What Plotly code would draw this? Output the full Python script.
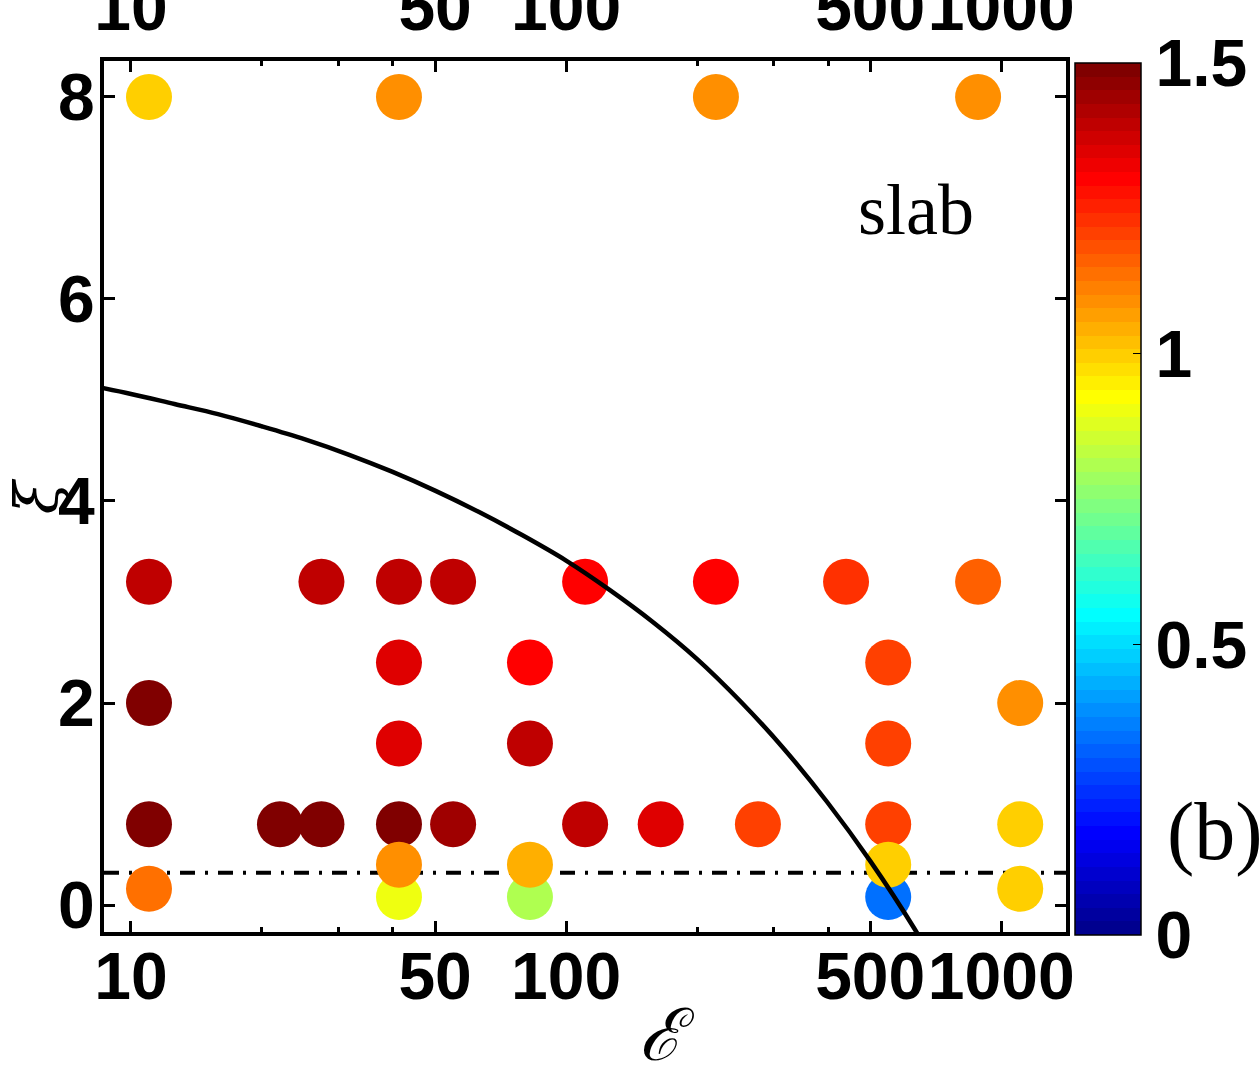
import math
import plotly.graph_objects as go

# ---------------- data ----------------
# scatter points: E (energy-like parameter), xi, colour value
E_VALS = [11, 41.3, 221, 885,
          11, 27.4, 41.3, 55, 110.6, 221, 440, 885,
          41.3, 82.6, 550,
          11, 1106,
          41.3, 82.6, 550,
          11, 22, 27.4, 41.3, 55, 110.6, 165, 276, 550, 1106,
          11, 1106,
          41.3, 82.6, 550,
          41.3, 82.6, 550]
XI_VALS = [8, 8, 8, 8,
           3.2, 3.2, 3.2, 3.2, 3.2, 3.2, 3.2, 3.2,
           2.4, 2.4, 2.4,
           2.0, 2.0,
           1.6, 1.6, 1.6,
           0.8, 0.8, 0.8, 0.8, 0.8, 0.8, 0.8, 0.8, 0.8, 0.8,
           0.16, 0.16,
           0.08, 0.08, 0.08,
           0.4, 0.4, 0.4]
C_VALS = [0.996, 1.09, 1.09, 1.09,
          1.395, 1.395, 1.395, 1.395, 1.30, 1.30, 1.23, 1.16,
          1.35, 1.30, 1.207,
          1.49, 1.09,
          1.35, 1.395, 1.207,
          1.49, 1.49, 1.49, 1.49, 1.44, 1.395, 1.35, 1.207, 1.207, 0.996,
          1.137, 0.996,
          0.90, 0.81, 0.34,
          1.09, 1.04, 0.996]

# boundary curve
CURVE_E = [7.94, 10, 12.59, 15.85, 19.95, 25.12, 31.62, 39.81, 50.12, 63.1, 79.43,
           100, 125.9, 158.5, 199.5, 251.2, 316.2, 398.1, 501.2, 631, 794.3]
CURVE_XI = [5.15, 5.06, 4.96, 4.86, 4.74, 4.61, 4.46, 4.29, 4.10, 3.89, 3.66,
            3.41, 3.12, 2.80, 2.44, 2.02, 1.55, 1.02, 0.43, -0.23, -0.98]

# horizontal dash-dot line level
XI_CRIT = 0.32

X_TICKS = [10, 50, 100, 500, 1000]
X_MINOR = [20, 30, 40, 200, 300, 400]
Y_TICKS = [0, 2, 4, 6, 8]
CB_TICKS = [0, 0.5, 1, 1.5]
CB_LABELS = ["0", "0.5", "1", "1.5"]

X_RANGE_LOG = [0.938, 3.149]
Y_RANGE = [-0.267, 8.356]
C_MIN, C_MAX = 0, 1.5

# label position (data units)
SLAB_E, SLAB_XI = 638, 6.88

# ---------------- style helpers ----------------
def jet(t):
    def cl(v):
        return max(0.0, min(1.0, v))
    r = cl(1.5 - abs(4 * t - 3))
    g = cl(1.5 - abs(4 * t - 2))
    b = cl(1.5 - abs(4 * t - 1))
    return f"rgb({round(r*255)},{round(g*255)},{round(b*255)})"

N = 64
colorscale = []
for i in range(N):
    c = jet((i + 1) / N)
    colorscale.append([i / N, c])
    colorscale.append([(i + 1) / N, c])

TICKFONT = dict(family="Liberation Sans", size=66, color="black", weight="bold")

fig = go.Figure()

# dash-dot line
fig.add_trace(go.Scatter(
    x=[10 ** X_RANGE_LOG[0], 10 ** X_RANGE_LOG[1]], y=[XI_CRIT, XI_CRIT],
    mode="lines", line=dict(color="black", width=4, dash="15px,10px,3px,10px"),
    hoverinfo="skip", showlegend=False))

# scatter points
fig.add_trace(go.Scatter(
    x=E_VALS, y=XI_VALS, mode="markers",
    marker=dict(size=46, color=C_VALS, colorscale=colorscale, cmin=C_MIN, cmax=C_MAX,
                line=dict(width=0),
                colorbar=dict(
                    x=1.0094, xanchor="left", xpad=0,
                    y=0.497, yanchor="middle", ypad=0,
                    len=872, lenmode="pixels", thickness=66,
                    outlinecolor="black", outlinewidth=1.5,
                    tickvals=CB_TICKS, ticktext=CB_LABELS,
                    ticks="inside", ticklen=8, tickcolor="black", tickwidth=1,
                    tickfont=TICKFONT)),
    showlegend=False))

# boundary curve
fig.add_trace(go.Scatter(
    x=CURVE_E, y=CURVE_XI, mode="lines",
    line=dict(color="black", width=4.5, shape="spline", smoothing=1.0),
    hoverinfo="skip", showlegend=False))

# invisible trace to activate the top axis
fig.add_trace(go.Scatter(x=E_VALS[:1], y=XI_VALS[:1], xaxis="x2", mode="markers",
                         marker=dict(opacity=0), hoverinfo="skip", showlegend=False))

axis_common = dict(showgrid=False, zeroline=False, linecolor="black", linewidth=4,
                   tickcolor="black", tickwidth=3, automargin=False)

XTICKTEXT = [str(v) for v in X_TICKS]

fig.update_layout(
    width=1260, height=1069,
    margin=dict(l=104, r=194, t=61, b=137, autoexpand=False),
    paper_bgcolor="white", plot_bgcolor="white",
    xaxis=dict(type="log", range=X_RANGE_LOG, tickvals=X_TICKS, ticktext=XTICKTEXT, tickangle=0,
               ticks="inside", ticklen=11, showline=True, mirror="ticks",
               minor=dict(tickvals=X_MINOR, ticks="inside", ticklen=5, tickcolor="black", tickwidth=3),
               tickfont=TICKFONT, ticklabelstandoff=-16, **axis_common),
    xaxis2=dict(type="log", range=X_RANGE_LOG, overlaying="x", side="top", anchor="y",
                tickvals=X_TICKS, ticktext=XTICKTEXT, tickangle=0,
                ticks="inside", ticklen=11, showline=False,
                minor=dict(tickvals=X_MINOR, ticks="inside", ticklen=5, tickcolor="black", tickwidth=3),
                tickfont=TICKFONT, ticklabelstandoff=17, showgrid=False, zeroline=False,
                tickcolor="black", tickwidth=3, automargin=False),
    yaxis=dict(range=Y_RANGE, tickvals=Y_TICKS, ticks="inside", ticklen=11, showline=True,
               mirror="ticks", tickfont=TICKFONT, ticklabelstandoff=-8, **axis_common),
    annotations=[
        dict(text="slab", x=math.log10(SLAB_E), y=SLAB_XI, xref="x", yref="y", showarrow=False,
             font=dict(family="Liberation Serif", size=72, color="black")),
        dict(text="(b)", x=1.103, y=0.115, xref="paper", yref="paper", xanchor="left",
             yanchor="middle", showarrow=False,
             font=dict(family="Liberation Serif", size=82, color="black")),
        dict(text="<i>ℰ</i>", x=0.585, y=-0.118, xref="paper", yref="paper", showarrow=False,
             xanchor="center", yanchor="middle",
             font=dict(family="DejaVu Serif", size=72, color="black")),
        dict(text="<i>ξ</i>", x=-0.07, y=0.5, xref="paper", yref="paper", showarrow=False,
             textangle=-90, xanchor="center", yanchor="middle",
             font=dict(family="DejaVu Serif", size=60, color="black")),
    ],
)

fig.write_html("out.html")
